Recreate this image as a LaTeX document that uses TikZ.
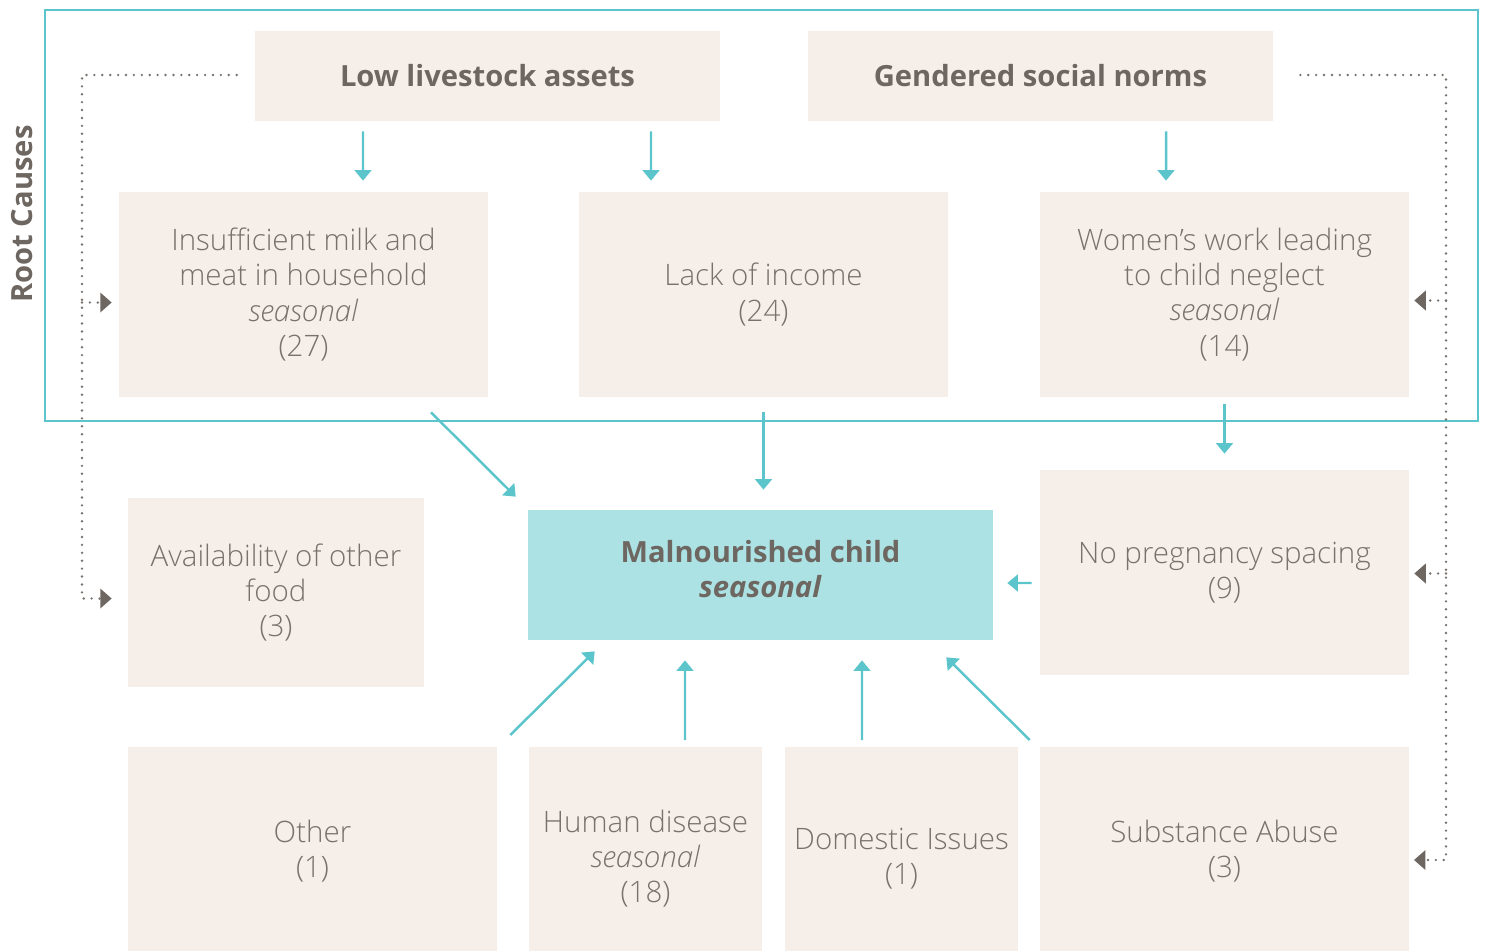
\documentclass[tikz,border=0pt]{standalone}
\usepackage{fontspec}
\setmainfont{Open Sans Light}[
  BoldFont={Open Sans Bold},
  ItalicFont={Open Sans Light Italic},
  BoldItalicFont={Open Sans Bold Italic}]
\usepackage{xcolor}
\usepackage{tikz}
\usetikzlibrary{arrows.meta,calc}

\definecolor{rootteal}{HTML}{5CC4CB}
\definecolor{childfill}{HTML}{ACE2E4}
\definecolor{beige}{HTML}{F6EFE9}
\definecolor{ink}{HTML}{79726C}
\definecolor{inkdark}{HTML}{6E6761}
\definecolor{dotgray}{HTML}{76716C}

\newcommand\boxfont{\fontsize{16.8}{20}\selectfont}
\newcommand\headfont{\fontsize{16.6}{20.3}\selectfont\bfseries}

\begin{document}
\begin{tikzpicture}[
  x=0.02cm, y=-0.02cm,
  box/.style={fill=beige, text=ink, align=center, inner sep=0pt, font=\boxfont},
  head/.style={box, text=inkdark, font=\headfont, minimum width=9.3cm, minimum height=1.8cm},
  cause/.style={box, minimum width=7.38cm, minimum height=4.1cm},
  low/.style={box, anchor=north},
  flow/.style={draw=rootteal, line width=1.4pt, -{Triangle[width=9.5pt,length=6pt]}},
  dots/.style={draw=dotgray, line width=1.5pt, dash pattern=on 0pt off 4.5pt, line cap=round,
    -{Triangle[width=11pt,length=6.5pt,fill=inkdark,color=inkdark]}}
]
\useasboundingbox (0,0) rectangle (1486,950);

\draw[rootteal, line width=1.4pt] (45,10) rectangle (1478,421);
\node[rotate=90, text=inkdark, font=\headfont] (root) at (22,214) {Root Causes};

\node[head] (stock) at (487.5,76) {Low livestock assets};
\node[head] (norms) at (1040.5,76) {Gendered social norms};

\node[cause] (milk) at (303.5,294.5) {Insufficient milk and\\meat in household\\\textit{seasonal}\\(27)};
\node[cause] (income) at (763.5,294.5) {Lack of income\\(24)};
\node[cause] (women) at (1224.5,294.5) {Women’s work leading\\to child neglect\\\textit{seasonal}\\(14)};

\node[box, fill=childfill, text=inkdark, font=\headfont, minimum width=9.3cm, minimum height=2.6cm,
  text depth=0.25cm] (child) at (760.5,575) {Malnourished child\\\textit{seasonal}};
\node[box, minimum width=5.92cm, minimum height=3.78cm] (avail) at (276,592.5) {Availability of other\\food\\(3)};
\node[cause] (spacing) at (1224.5,572.5) {No pregnancy spacing\\(9)};

\node[low, minimum width=7.38cm, minimum height=4.16cm] (other) at (312.5,747) {Other\\(1)};
\node[low, minimum width=4.66cm, minimum height=4.46cm] (disease) at (645.5,747) {Human disease\\\textit{seasonal}\\(18)};
\node[low, minimum width=4.66cm, minimum height=4.46cm] (domestic) at (901.5,747) {Domestic Issues\\(1)};
\node[low, minimum width=7.38cm, minimum height=4.14cm] (abuse) at (1224.5,747) {Substance Abuse\\(3)};

\draw[flow] ([shift={(-124.5,10)}]stock.south) -- ([shift={(59.5,-11)}]milk.north);
\draw[flow] ([shift={(163.5,10)}]stock.south) -- ([shift={(-112.5,-11)}]income.north);
\draw[flow] ([shift={(125.5,10)}]norms.south) -- ([shift={(-58.5,-11)}]women.north);
\draw[flow] ([shift={(127.5,15)}]milk.south) -- ([shift={(-12,-13)}]child.north west);
\draw[flow] ([shift={(0,15)}]income.south) -- ([shift={(3,-20)}]child.north);
\draw[flow] ([shift={(0,7)}]women.south) -- ([shift={(0,-16)}]spacing.north);
\draw[flow] ([shift={(-8,10.5)}]spacing.west) -- ([shift={(14,8)}]child.east);
\draw[flow] ([shift={(13,-12)}]other.north east) -- ([shift={(67,11)}]child.south west);
\draw[flow] ([shift={(39.5,-7)}]disease.north) -- ([shift={(-75.5,20)}]child.south);
\draw[flow] ([shift={(-39.5,-7)}]domestic.north) -- ([shift={(101.5,20)}]child.south);
\draw[flow] ([shift={(-10,-7)}]abuse.north west) -- ([shift={(-47,17)}]child.south east);

% dotted rails down both sides
\coordinate (lrail) at (82,75);
\coordinate (rrail) at (1446,75);
\coordinate (in1) at ([shift={(-7,8)}]milk.west);
\coordinate (in2) at ([shift={(-16,6)}]avail.west);
\coordinate (in3) at ([shift={(5,6)}]women.east);
\coordinate (in4) at ([shift={(5,1)}]spacing.east);
\coordinate (in5) at (1414,860);
\draw[dots] ([shift={(-18,-1)}]stock.west) -- (lrail) |- (in2);
\draw[dots] (in1 -| lrail) -- (in1);
\draw[dots] ([shift={(27,-1)}]norms.east) -- (rrail) |- (in5);
\draw[dots] (in3 -| rrail) -- (in3);
\draw[dots] (in4 -| rrail) -- (in4);
\end{tikzpicture}
\end{document}
